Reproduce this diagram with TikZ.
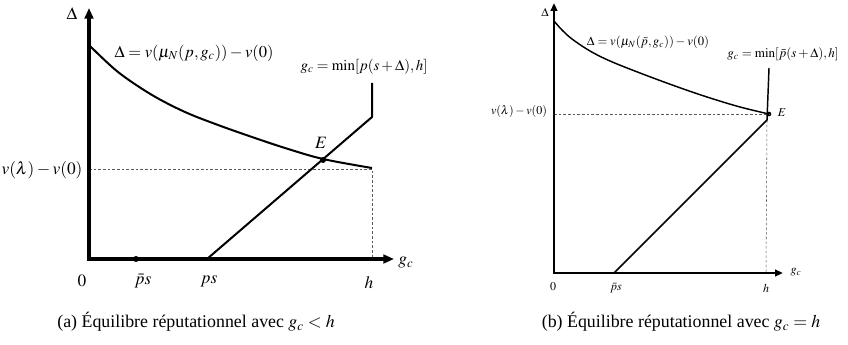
\documentclass[tikz,border=0pt]{standalone}
\usepackage{mathptmx}
\usepackage{fontspec}
\setmainfont{Liberation Serif}
\usetikzlibrary{arrows.meta}
\begin{document}
\begin{tikzpicture}[x=0.75pt,y=-0.75pt,
  axisA/.style={line width=2.3pt,{Triangle[length=8pt,width=6.5pt]}-{Triangle[length=8pt,width=6.5pt]}},
  curveA/.style={line width=1.5pt},
  axisB/.style={line width=1.5pt,{Triangle[length=6pt,width=5pt]}-{Triangle[length=6pt,width=5pt]}},
  curveB/.style={line width=1.1pt},
  guide/.style={line width=0.4pt, gray!70!black, dash pattern=on 2pt off 1.5pt},
  dot/.style={circle, fill, inner sep=0pt, minimum size=4.5pt},
  dotB/.style={circle, fill, inner sep=0pt, minimum size=3.5pt},
  lblA/.style={font=\fontsize{13}{15}\selectfont, inner sep=1pt},
  eqA/.style={font=\fontsize{12.4}{14}\selectfont, inner sep=1pt},
  mnA/.style={font=\fontsize{11.2}{13}\selectfont, inner sep=1pt},
  lblB/.style={font=\fontsize{9}{11}\selectfont, inner sep=1pt},
  eqB/.style={font=\fontsize{9.5}{11}\selectfont, inner sep=1pt},
  mnB/.style={font=\fontsize{9.8}{11}\selectfont, inner sep=1pt},
  captext/.style={font=\fontsize{13.4}{15}\selectfont, inner sep=1pt}
]
\useasboundingbox (0,0) rectangle (848,345);

% ---------- panel (a) ----------
\coordinate (OA) at (89,259);
\coordinate (YA) at (89,8);
\coordinate (XA) at (394,259);
\coordinate (HA) at (372,259);
\coordinate (VA) at (89,169);
\coordinate (CA) at (372,169);
\coordinate (PSA) at (207,259);
\coordinate (KA) at (372,117);
\coordinate (TA) at (372,83);
\node[dot] (PBA) at (136,259) {};
\node[dot] (EA) at (323,160) {};

\draw[guide] (VA) -- (CA) -- (HA);
\draw[axisA] (YA) -- (OA) -- (XA);
\draw[curveA] plot[smooth, tension=0.55] coordinates {(89,45) (118,72) (152,95) (185,112) (218,125) (252,137) (285,148) (323,159) (372,168)};
\draw[curveA] (PSA) -- (KA) -- (TA);

\node[lblA] (dA) at (72,14) {$\Delta$};
\node[lblA] (gA) at (406,263) {$g_c$};
\node[lblA] (zA) at (82,281) {$0$};
\node[lblA] (pbA) at (143,281) {$\bar{p}s$};
\node[lblA] (psA) at (209,281) {$ps$};
\node[lblA] (hA) at (369,283) {$h$};
\node[lblA] (vA) at (42,170) {$v(\lambda)-v(0)$};
\node[lblA] (eA) at (321,143) {$E$};
\node[eqA] (fA) at (194,53) {$\Delta=v(\mu_N(p,g_c))-v(0)$};
\node[mnA] (mA) at (364,67) {$g_c=\min[p(s+\Delta),h]$};

% ---------- panel (b) ----------
\coordinate (OB) at (554,273);
\coordinate (YB) at (554,3);
\coordinate (XB) at (783,273);
\coordinate (HB) at (766,273);
\coordinate (VB) at (554,114);
\coordinate (PSB) at (614,273);
\coordinate (KB) at (767,120);
\coordinate (TB) at (769,68);
\node[dotB] (EB) at (769,114) {};

\draw[guide] (VB) -- (EB.center);
\draw[guide] (KB) -- (HB);
\draw[axisB] (YB) -- (OB) -- (XB);
\draw[curveB] plot[smooth, tension=0.6] coordinates {(554,21) (562,30) (572,39) (590,51) (610,61) (640,73) (675,86) (707,97) (740,107) (769,114)};
\draw[curveB] (PSB) -- (KB) -- (TB);

\node[lblB] (dB) at (545,12) {$\Delta$};
\node[lblB] (gB) at (796,272) {$g_c$};
\node[lblB] (zB) at (553,287) {$0$};
\node[lblB] (pbB) at (616,288) {$\bar{p}s$};
\node[lblB] (hB) at (766,288) {$h$};
\node[lblB] (vB) at (519,112) {$v(\lambda)-v(0)$};
\node[lblB] (eB) at (782,113) {$E$};
\node[eqB] (fB) at (648,42) {$\Delta=v(\mu_N(\bar{p},g_c))-v(0)$};
\node[mnB] (mB) at (783,54) {$g_c=\min[\bar{p}(s+\Delta),h]$};

% ---------- captions ----------
\node[captext] (capA) at (196,322) {(a) Équilibre réputationnel avec $g_c<h$};
\node[captext] (capB) at (681,322) {(b) Équilibre réputationnel avec $g_c=h$};
\end{tikzpicture}
\end{document}
